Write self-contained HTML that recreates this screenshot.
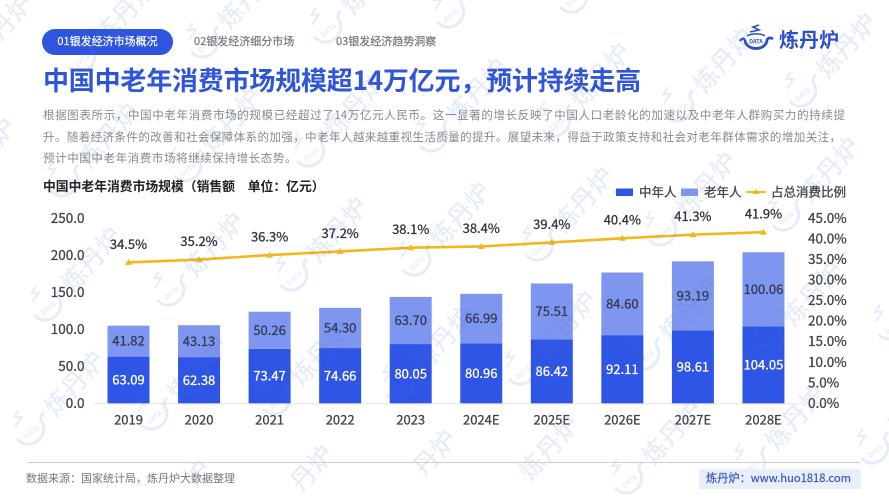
<!DOCTYPE html>
<html lang="zh-CN">
<head>
<meta charset="utf-8">
<title>中国中老年消费市场规模</title>
<style>
  html, body { margin: 0; padding: 0; background: #fff; width: 889px; height: 500px; overflow: hidden; }
  body { position: relative; font-family: "Noto Sans CJK SC", "Liberation Sans", sans-serif; }
  .abs { position: absolute; white-space: nowrap; line-height: 1; }
  #stage { position: absolute; left: 0; top: 0; width: 889px; height: 500px; overflow: hidden; }
  .tab { position: absolute; top: 29px; height: 26px; line-height: 25px; font-size: 11px; color: #777; white-space: nowrap; -webkit-text-stroke: 0.2px currentColor; }
  #tab1 { left: 42px; width: 131px; background: #2f55e0; color: #fff; border-radius: 13px; text-align: center; }
  #tab2 { left: 194px; }
  #tab3 { left: 336px; }
  .para { position: absolute; left: 43px; width: 802px; font-size: 11.5px; line-height: 14px; color: #8a8a8a; white-space: nowrap; }
  .just { text-align: justify; text-align-last: justify; }
</style>
</head>
<body>

<div class="tab" id="tab1">01银发经济市场概况</div>
<div class="tab" id="tab2">02银发经济细分市场</div>
<div class="tab" id="tab3">03银发经济趋势洞察</div>

<div class="abs" style="left:779px;top:29px;font-size:20px;font-weight:700;color:#2a4fc9;">炼丹炉</div>

<div class="abs" style="left:43px;top:67px;font-size:26px;font-weight:700;color:#2f55d8;letter-spacing:-0.2px;">中国中老年消费市场规模超14万亿元，预计持续走高</div>

<div class="para just" style="top:108px;">根据图表所示，中国中老年消费市场的规模已经超过了14万亿元人民币。这一显著的增长反映了中国人口老龄化的加速以及中老年人群购买力的持续提</div>
<div class="para just" style="top:130px;width:798px;">升。随着经济条件的改善和社会保障体系的加强，中老年人越来越重视生活质量的提升。展望未来，得益于政策支持和社会对老年群体需求的增加关注，</div>
<div class="para" style="top:151px;letter-spacing:0.6px;">预计中国中老年消费市场将继续保持增长态势。</div>

<div class="abs" style="left:43px;top:180px;font-size:12.8px;font-weight:700;color:#222;">中国中老年消费市场规模（销售额　单位：亿元）</div>

<svg id="stage" viewBox="0 0 889 500" xmlns="http://www.w3.org/2000/svg">
  <g id="chart"></g>
  <g id="legend" stroke-width="0">
    <g>
      <rect x="616" y="188.5" width="17" height="7.5" fill="#2f55e6"></rect>
      <text x="639" y="196.5" font-size="12.5" fill="#444" stroke="#444" stroke-width="0.3">中年人</text>
    </g>
    <g>
      <rect x="681" y="188.5" width="17" height="7.5" fill="#7f96f0"></rect>
      <text x="704" y="196.5" font-size="12.5" fill="#444" stroke="#444" stroke-width="0.3">老年人</text>
    </g>
    <g>
      <line x1="746" y1="192" x2="766" y2="192" stroke="#f5b81b" stroke-width="2"></line>
      <path d="M756 189 L759.5 194 L752.5 194 Z" fill="#f5b81b"></path>
      <text x="771" y="196.5" font-size="12.5" fill="#444" stroke="#444" stroke-width="0.3">占总消费比例</text>
    </g>
  </g>
  <g id="brand-logo" transform="translate(756 40)">
    <path d="M-11 0 A11 8.500 0 0 0 11 0 C12 -2 14 -3 17 -1" fill="none" stroke="#2a4fc9" stroke-width="2.800"></path>
    <path d="M-11 0 C-12 -2 -14 -2 -16 1" fill="none" stroke="#2a4fc9" stroke-width="2.200"></path>
    <path d="M-9 -4 A11 5 0 0 1 9 -4" fill="none" stroke="#2a4fc9" stroke-width="1.500"></path>
    <path d="M-6 -8 L3 -10 L-3 -13 L3 -15" fill="none" stroke="#2a4fc9" stroke-width="1.600"></path>
    <text x="0" y="3.500" font-size="5.500" font-weight="700" text-anchor="middle" fill="#2a4fc9">DATA</text>
  </g>
  <g id="watermarks"></g>
</svg>

<div class="abs" style="left:27px;top:461.5px;width:833px;height:1px;background:#cfcfcf;"></div>
<div class="abs" style="left:26px;top:473px;font-size:11px;color:#777;">数据来源：国家统计局，炼丹炉大数据整理</div>
<div class="abs" style="left:699px;top:469px;width:162px;height:20px;background:#e9eefb;color:#3a58c8;font-size:11.2px;line-height:19px;text-indent:7px;-webkit-text-stroke:0.2px currentColor;">炼丹炉：www.huo1818.com</div>

<script>
var categories = ["2019", "2020", "2021", "2022", "2023", "2024E", "2025E", "2026E", "2027E", "2028E"];
var middleAged = [63.09, 62.38, 73.47, 74.66, 80.05, 80.96, 86.42, 92.11, 98.61, 104.05];
var elderly = [41.82, 43.13, 50.26, 54.30, 63.70, 66.99, 75.51, 84.60, 93.19, 100.06];
var consumptionShare = [34.5, 35.2, 36.3, 37.2, 38.1, 38.4, 39.4, 40.4, 41.3, 41.9];
var leftTicks = [0, 50, 100, 150, 200, 250];
var rightTicks = [0, 5, 10, 15, 20, 25, 30, 35, 40, 45];

var SVG_NS = "http://www.w3.org/2000/svg";
var chart = document.getElementById("chart");
var leftMax = 250;
var rightMax = 45;
var plotBottom = 403.3;
var barScaleHeight = 185;
var lineBottom = 403.5;
var lineScaleHeight = 184;
var firstCenter = 128.5;
var bandWidth = 70.55;
var barWidth = 42;

function xCat(i) { return firstCenter + i * bandWidth; }
function yLeft(v) { return plotBottom - (v / leftMax) * barScaleHeight; }
function yRight(v) { return lineBottom - (v / rightMax) * lineScaleHeight; }
function yRightTick(v) { return plotBottom - (v / rightMax) * barScaleHeight; }

function make(tag, attrs, text) {
  var el = document.createElementNS(SVG_NS, tag);
  for (var k in attrs) { el.setAttribute(k, attrs[k]); }
  if (text !== undefined) { el.textContent = text; }
  return el;
}

var baseline = make("line", { x1: 94, x2: 799, y1: plotBottom + 0.5, y2: plotBottom + 0.5, stroke: "#e4e4e4", "stroke-width": 1 });


chart.appendChild(baseline);

leftTicks.forEach(function (v) {
  var t = make("text", { x: 84.5, y: yLeft(v) + 4.6, "text-anchor": "end", "font-size": 13.5, fill: "#444", stroke: "#444", "stroke-width": 0.3 }, v.toFixed(1));
  
  
  chart.appendChild(t);
});

rightTicks.forEach(function (v) {
  var t = make("text", { x: 808, y: yRightTick(v) + 4.6, "font-size": 13.5, fill: "#444", stroke: "#444", "stroke-width": 0.3 }, v.toFixed(1) + "%");
  
  
  chart.appendChild(t);
});

categories.forEach(function (c, i) {
  var cx = xCat(i);
  var midTop = yLeft(middleAged[i]);
  var totalTop = yLeft(middleAged[i] + elderly[i]);

  var barMid = make("rect", { x: cx - barWidth / 2, y: midTop, width: barWidth, height: plotBottom - midTop, fill: "#2f55e6" });
  
  
  chart.appendChild(barMid);

  var barOld = make("rect", { x: cx - barWidth / 2, y: totalTop, width: barWidth, height: midTop - totalTop, fill: "#7f96f0" });
  
  
  chart.appendChild(barOld);

  var labelMid = make("text", { x: cx, y: (midTop + plotBottom) / 2 + 4.6, "text-anchor": "middle", "font-size": 13, fill: "#fff", stroke: "#fff", "stroke-width": 0.3 }, middleAged[i].toFixed(2));
  
  
  chart.appendChild(labelMid);

  var labelOld = make("text", { x: cx, y: (midTop + totalTop) / 2 + 4.6, "text-anchor": "middle", "font-size": 13, fill: "#333a52", stroke: "#333a52", "stroke-width": 0.3 }, elderly[i].toFixed(2));
  
  
  chart.appendChild(labelOld);

  var catLabel = make("text", { x: cx, y: 424.6, "text-anchor": "middle", "font-size": 13, fill: "#444", stroke: "#444", "stroke-width": 0.3 }, c);
  
  
  chart.appendChild(catLabel);
});

var pointList = consumptionShare.map(function (v, i) { return xCat(i) + "," + yRight(v); }).join(" ");
var shareLine = make("polyline", { points: pointList, fill: "none", stroke: "#f4b71a", "stroke-width": 2.6 });


chart.appendChild(shareLine);

consumptionShare.forEach(function (v, i) {
  var px = xCat(i);
  var py = yRight(v);
  var marker = make("path", { d: "M" + px + " " + (py - 3.5) + " L" + (px + 3.5) + " " + (py + 2.5) + " L" + (px - 3.5) + " " + (py + 2.5) + " Z", fill: "#f4b71a" });
  
  
  chart.appendChild(marker);

  var lab = make("text", { x: px, y: py - 13.6, "text-anchor": "middle", "font-size": 13, fill: "#333", stroke: "#333", "stroke-width": 0.3 }, v.toFixed(1) + "%");
  
  
  chart.appendChild(lab);
});

/* Repeating background watermark: parts that would cross the bottom edge are dropped */
var wm = document.getElementById("watermarks");
var wmColor = "#4f72d8";
var wmChars = ["炼", "丹", "炉"];
for (var a = -3; a <= 9; a++) {
  for (var b = -3; b <= 5; b++) {
    var lx = 48 + a * 123 - b * 17;
    var ly = 308 - a * 15 + b * 124;
    if (lx < -90 || lx > 980 || ly < -90 || ly > 590) { continue; }

    var item = make("g", { opacity: 0.13 });
    
    
    wm.appendChild(item);

    wmChars.forEach(function (ch, n) {
      var cx = lx + 44 + (n - 1) * 17;
      var cy = ly - 48 + (1 - n) * 19;
      var glyph = make("text", { transform: "translate(" + cx + " " + cy + ") rotate(-48)", "text-anchor": "middle", y: 8, "font-size": 25, "font-weight": 500, fill: wmColor }, ch);
      item.appendChild(glyph);
      if (glyph.getBoundingClientRect().bottom > 500) { item.removeChild(glyph); }
    });

    var mark = make("g", { transform: "translate(" + lx + " " + ly + ") rotate(-38)" });
    mark.appendChild(make("path", { d: "M-15 -3 A15 14 0 0 0 15 -3 A8 8 0 0 1 22 -7", fill: "none", stroke: wmColor, "stroke-width": 3 }));
    mark.appendChild(make("path", { d: "M-9 -14 L2 -18 L-4 -22 L4 -25", fill: "none", stroke: wmColor, "stroke-width": 2 }));
    mark.appendChild(make("text", { x: 0, y: 3, "font-size": 7, "font-weight": 700, "text-anchor": "middle", fill: wmColor }, "DATA"));
    item.appendChild(mark);
    if (mark.getBoundingClientRect().bottom > 500) { item.removeChild(mark); }
  }
}
</script>
</body>
</html>
